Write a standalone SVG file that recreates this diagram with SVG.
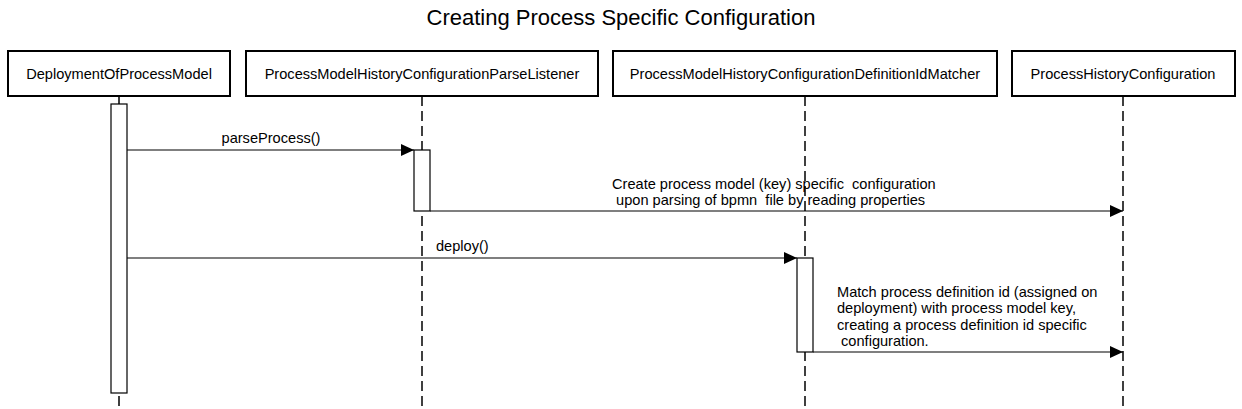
<svg xmlns="http://www.w3.org/2000/svg" width="1242" height="409" viewBox="0 0 1242 409">
<style>
.box{fill:#fff;stroke:#000;stroke-width:2}
.lt{font-family:"Liberation Sans",Arial,sans-serif;font-size:14.6px;fill:#000}
.life{stroke:#000;stroke-width:1.5;stroke-dasharray:10,5;fill:none}
.act{fill:#fff;stroke:#000;stroke-width:1.2}
.msg{stroke:#000;stroke-width:1.2;fill:none;marker-end:url(#ah)}
</style>
<defs>
<marker id="ah" markerWidth="14" markerHeight="12" refX="13" refY="6" orient="auto" markerUnits="userSpaceOnUse">
<path d="M0,0 L13,6 L0,12 z" fill="#000"/>
</marker>
</defs>
<rect width="1242" height="409" fill="#fff"/>
<text x="621" y="25" text-anchor="middle" font-family="Liberation Sans,Arial,sans-serif" font-size="22">Creating Process Specific Configuration</text>
<g id="lifelines">
<line class="life" x1="119" y1="96" x2="119" y2="409"/>
<line class="life" x1="422" y1="96" x2="422" y2="409"/>
<line class="life" x1="805" y1="96" x2="805" y2="409"/>
<line class="life" x1="1123" y1="96" x2="1123" y2="409"/>
</g>
<g id="DeploymentOfProcessModel">
<rect class="box" x="8" y="51" width="222" height="45"/>
<text class="lt" x="119" y="79" text-anchor="middle">DeploymentOfProcessModel</text>
<rect class="act" x="111" y="104" width="16" height="289"/>
</g>
<g id="ProcessModelHistoryConfigurationParseListener">
<rect class="box" x="246" y="51" width="352" height="45"/>
<text class="lt" x="422" y="79" text-anchor="middle">ProcessModelHistoryConfigurationParseListener</text>
<rect class="act" x="414" y="150" width="16" height="61"/>
</g>
<g id="ProcessModelHistoryConfigurationDefinitionIdMatcher">
<rect class="box" x="613" y="51" width="384" height="45"/>
<text class="lt" x="805" y="79" text-anchor="middle">ProcessModelHistoryConfigurationDefinitionIdMatcher</text>
<rect class="act" x="797" y="258" width="16" height="94"/>
</g>
<g id="ProcessHistoryConfiguration">
<rect class="box" x="1012" y="51" width="223" height="45"/>
<text class="lt" x="1123" y="79" text-anchor="middle">ProcessHistoryConfiguration</text>
</g>
<g id="connectors">
<line class="msg" x1="127" y1="150" x2="414" y2="150"/>
<text class="lt" x="271" y="143" text-anchor="middle">parseProcess()</text>
<line class="msg" x1="430" y1="211" x2="1123" y2="211"/>
<text class="lt" x="612" y="189" xml:space="preserve">Create process model (key) specific  configuration</text>
<text class="lt" x="612" y="205" xml:space="preserve"> upon parsing of bpmn  file by reading properties</text>
<line class="msg" x1="127" y1="258" x2="797" y2="258"/>
<text class="lt" x="436" y="251">deploy()</text>
<line class="msg" x1="813" y1="352" x2="1123" y2="352"/>
<text class="lt" x="837" y="297">Match process definition id (assigned on</text>
<text class="lt" x="837" y="313">deployment) with process model key,</text>
<text class="lt" x="837" y="330">creating a process definition id specific</text>
<text class="lt" x="837" y="346" xml:space="preserve"> configuration.</text>
</g>
</svg>
